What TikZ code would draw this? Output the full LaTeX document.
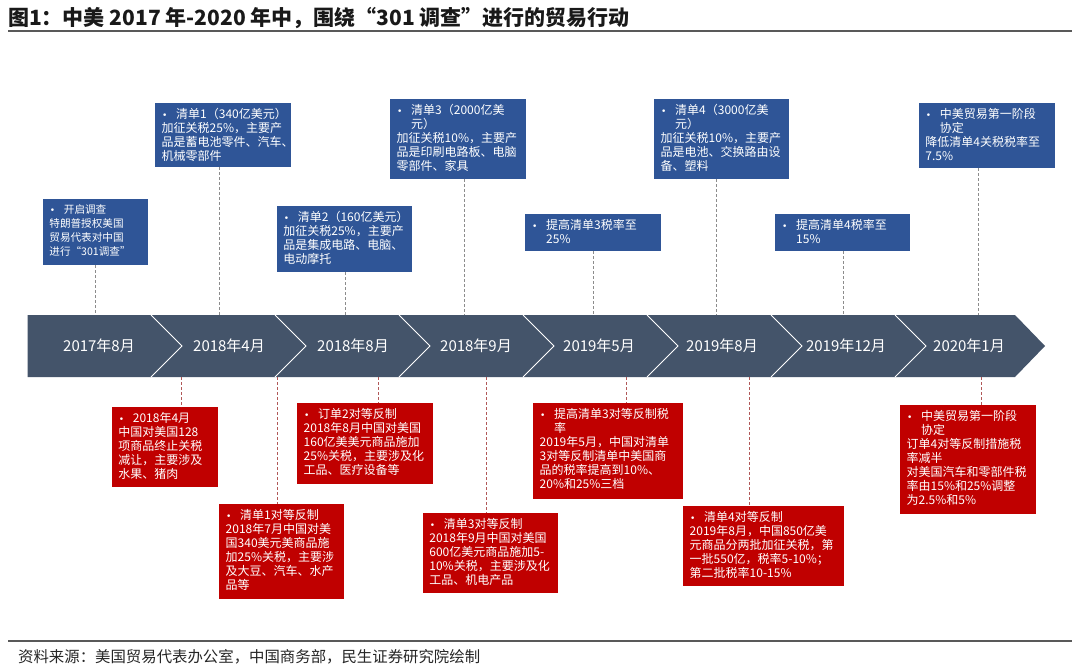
\documentclass[tikz,border=0pt]{standalone}
\usepackage{fontspec}
\setmainfont{Noto Sans CJK SC}
\newfontfamily\dvfont{DejaVu Sans}
\definecolor{bandc}{HTML}{44546A}
\definecolor{bluec}{HTML}{2F5597}
\definecolor{redc}{HTML}{C00000}
\definecolor{tdash}{HTML}{8C8C8C}
\definecolor{rdash}{HTML}{B05858}
\definecolor{rulec}{HTML}{595959}
\newcommand\bt[4]{\parbox[c][#2pt][t]{#1pt}{\fontsize{#3}{14}\selectfont\parindent=0pt\leftskip=6.5pt\vspace*{5pt}#4}}
\newcommand\bul{\makebox[14.5pt][l]{\hspace*{0.5pt}{\dvfont\fontsize{9}{9}\selectfont •}}}
\newcommand\ind{\hspace*{14.5pt}}
\tikzset{
  bbox/.style={fill=bluec, text=white, inner sep=0pt, anchor=north west},
  rbox/.style={fill=redc, text=white, inner sep=0pt, anchor=north west},
  tconn/.style={draw=tdash, dash pattern=on 3pt off 2pt, line width=0.8pt},
  rconn/.style={draw=rdash, dash pattern=on 3pt off 2pt, line width=0.8pt},
  datelab/.style={text=white, font=\fontsize{15}{18}\selectfont, inner sep=0pt},
  sepline/.style={draw=white, line width=0.8pt}
}
\begin{document}
\begin{tikzpicture}[x=1pt,y=-1pt]
\useasboundingbox (0,0) rectangle (1080,672);
\fill[white] (0,0) rectangle (1080,672);
% title
\node[anchor=west, inner sep=0pt, font=\bfseries\fontsize{21}{24}\selectfont, text=black!90] (title) at (8,18) {图1：中美 2017 年-2020 年中，围绕“301 调查”进行的贸易行动};
\draw[rulec, line width=1.6pt] (8,31) -- (1072,31);
% footer
\draw[rulec, line width=1.6pt] (8,641) -- (1072,641);
\node[anchor=west, inner sep=0pt, font=\fontsize{15.4}{18}\selectfont, text=black!85] (src) at (18,657) {资料来源：美国贸易代表办公室，中国商务部，民生证券研究院绘制};
% band
\fill[bandc] (27.6,315) -- (1015,315) -- (1045,346) -- (1015,377) -- (27.6,377) -- cycle;
\foreach \b in {151,275,399,523,647,771,895}{
  \draw[sepline] (\b,315) -- (\b+31,346) -- (\b,377);
}
\node[datelab] (d1) at (99,346) {2017年8月};
\node[datelab] (d2) at (229,346) {2018年4月};
\node[datelab] (d3) at (353,346) {2018年8月};
\node[datelab] (d4) at (476,346) {2018年9月};
\node[datelab] (d5) at (599,346) {2019年5月};
\node[datelab] (d6) at (722,346) {2019年8月};
\node[datelab] (d7) at (846,346) {2019年12月};
\node[datelab] (d8) at (969,346) {2020年1月};
% band anchor coordinates
\coordinate (t1) at (95.7,315);
\coordinate (t2) at (219,315);
\coordinate (t3) at (345,315);
\coordinate (t4) at (464,315);
\coordinate (t5) at (593,315);
\coordinate (t6) at (716,315);
\coordinate (t7) at (843,315);
\coordinate (t8) at (978,315);
\coordinate (u1) at (181,377);
\coordinate (u2) at (277.7,377);
\coordinate (u3) at (378,377);
\coordinate (u4) at (486.7,377);
\coordinate (u5) at (626.7,377);
\coordinate (u6) at (749,377);
\coordinate (u7) at (981.7,377);
% blue boxes
\node[bbox] (b1) at (42.7,199) {\bt{105.3}{66}{10.6}{\bul 开启调查\\特朗普授权美国\\贸易代表对中国\\进行“301调查”}};
\node[bbox] (b2) at (155,102.7) {\bt{135.7}{64.3}{12}{\bul 清单1（340亿美元）\\加征关税25\%，主要产\\品是蓄电池零件、汽车、\\机械零部件}};
\node[bbox] (b3) at (276.7,206) {\bt{135}{65.7}{12}{\bul 清单2（160亿美元）\\加征关税25\%，主要产\\品是集成电路、电脑、\\电动摩托}};
\node[bbox] (b4) at (390,99) {\bt{136}{80}{12}{\bul 清单3（2000亿美\\\ind 元）\\加征关税10\%，主要产\\品是印刷电路板、电脑\\零部件、家具}};
\node[bbox] (b5) at (525,214) {\bt{136}{36.7}{12}{\bul 提高清单3税率至\\\ind 25\%}};
\node[bbox] (b6) at (654,99) {\bt{135}{80}{12}{\bul 清单4（3000亿美\\\ind 元）\\加征关税10\%，主要产\\品是电池、交换路由设\\备、塑料}};
\node[bbox] (b7) at (775,214) {\bt{135}{36.7}{12}{\bul 提高清单4税率至\\\ind 15\%}};
\node[bbox] (b8) at (918.7,102.7) {\bt{136}{65.3}{12}{\bul 中美贸易第一阶段\\\ind 协定\\降低清单4关税税率至\\7.5\%}};
% red boxes
\node[rbox] (r1) at (111.7,407) {\bt{106.3}{80}{12}{\bul 2018年4月\\中国对美国128\\项商品终止关税\\减让，主要涉及\\水果、猪肉}};
\node[rbox] (r2) at (219,504) {\bt{125}{95}{12}{\bul 清单1对等反制\\2018年7月中国对美\\国340美元美商品施\\加25\%关税，主要涉\\及大豆、汽车、水产\\品等}};
\node[rbox] (r3) at (297,403) {\bt{136}{81}{12}{\bul 订单2对等反制\\2018年8月中国对美国\\160亿美美元商品施加\\25\%关税，主要涉及化\\工品、医疗设备等}};
\node[rbox] (r4) at (422.7,513) {\bt{135.3}{80}{12}{\bul 清单3对等反制\\2018年9月中国对美国\\600亿美元商品施加5-\\10\%关税，主要涉及化\\工品、机电产品}};
\node[rbox] (r5) at (533,403) {\bt{150}{96}{12}{\bul 提高清单3对等反制税\\\ind 率\\2019年5月，中国对清单\\3对等反制清单中美国商\\品的税率提高到10\%、\\20\%和25\%三档}};
\node[rbox] (r6) at (683,506) {\bt{161}{80}{12}{\bul 清单4对等反制\\2019年8月，中国850亿美\\元商品分两批加征关税，第\\一批550亿，税率5-10\%；\\第二批税率10-15\%}};
\node[rbox] (r7) at (900,405) {\bt{136}{109}{12}{\bul 中美贸易第一阶段\\\ind 协定\\订单4对等反制措施税\\率减半\\对美国汽车和零部件税\\率由15\%和25\%调整\\为2.5\%和5\%}};
% connectors
\foreach \i in {1,...,8}{
  \draw[tconn] (b\i.south -| t\i) -- (t\i);
}
\foreach \i in {1,...,7}{
  \draw[rconn] (u\i) -- (r\i.north -| u\i);
}
\end{tikzpicture}
\end{document}
